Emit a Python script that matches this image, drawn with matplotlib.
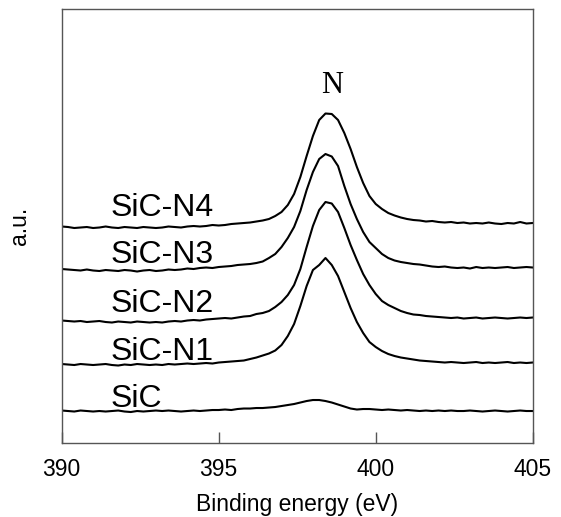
import numpy as np
import matplotlib
matplotlib.use("Agg")
import matplotlib.pyplot as plt

plt.rcParams['font.family'] = ['Liberation Sans', 'DejaVu Sans']

# Binding energy grid (eV), 0.2 eV steps
energy = np.linspace(390.0, 405.0, 76)

sic = [32.5, 32, 31.5, 32.5, 32, 31.5, 32, 31.5, 32, 32.5,
       31.5, 31, 32, 31.5, 32, 32.5, 32, 32.5, 32, 31.5,
       32, 32.5, 32, 32.5, 33, 33, 33.5, 33, 34, 34.5,
       34.5, 35, 35, 35.5, 36, 37, 38, 39, 40.5, 42,
       43, 43, 42, 40.5, 38.5, 36.5, 34.5, 33.5, 34, 34,
       33.5, 33, 33.5, 33, 32.5, 33, 32.5, 32, 32.5, 32,
       32.5, 32, 32.5, 32, 32, 32.5, 32, 31.5, 32, 32.5,
       32, 31.5, 32, 32.5, 32, 32]

sic_n1 = [79, 78.5, 78, 79, 78.5, 78, 78.5, 79, 78, 77.5,
          78.5, 78, 79, 78.5, 78, 78.5, 78, 79, 78.5, 79,
          79.5, 79, 79.5, 80, 79.5, 80.5, 81, 81.5, 82, 82.5,
          84, 85.5, 87.5, 89.5, 92.5, 98, 107, 119, 137, 157,
          173, 178, 185, 178, 167, 151, 135, 121, 110, 101,
          96, 92, 89, 87, 85.5, 84.5, 83.5, 82.5, 82, 81.5,
          81, 80.5, 81, 80.5, 80, 80.5, 81, 80, 80.5, 80,
          80.5, 81, 80, 80.5, 80, 80.5]

sic_n2 = [122.5, 122, 121.5, 122, 121, 121.5, 122, 121, 120.5, 121.5,
          121, 120.5, 121.5, 121, 120.5, 121, 120.5, 121.5, 122, 121.5,
          122.5, 123, 122.5, 123.5, 124, 124.5, 125, 124.5, 125.5, 126.5,
          127, 129, 130, 132, 136, 141, 148, 158, 174, 196,
          217, 233, 241, 239.5, 231, 215, 198, 183, 169, 158,
          149, 142, 138, 135, 132, 130, 128.5, 128, 127, 126.5,
          126, 125.5, 125, 125.5, 124.5, 125, 125.5, 124.5, 125, 125.5,
          125, 124.5, 125, 125.5, 125, 125.5]

sic_n3 = [174, 173.5, 173, 172.5, 173.5, 172.5, 172, 173, 172.5, 172,
          173, 172.5, 171.5, 172.5, 173, 172, 172.5, 173.5, 173, 173.5,
          174.5, 174, 175, 175.5, 175, 176, 176.5, 177, 178, 178.5,
          179, 180, 181.5, 185, 189, 196, 205, 216, 232, 253,
          271, 284, 289, 286.5, 277, 257, 239, 224, 211, 201,
          195, 189, 185, 182.5, 181, 180, 179, 178.5, 177.5, 176.5,
          176, 176.5, 175.5, 175, 175.5, 174.5, 176, 175, 175.5, 175,
          175.5, 176, 175, 175.5, 176, 175.5]

sic_n4 = [216.5, 216, 215, 215.5, 216, 215, 215.5, 216.5, 215.5, 215,
          216, 215.5, 215, 216, 215.5, 215, 215.5, 216.5, 216, 215.5,
          216.5, 217, 216.5, 217, 218, 217.5, 218, 219, 219.5, 220,
          220.5, 221.5, 222.5, 224, 227, 231, 238, 249, 266, 287,
          307, 323, 329.5, 329, 323, 310, 294, 276, 260, 247,
          239, 234, 230, 227.5, 225.5, 224, 223, 222.5, 221.5, 222,
          221, 220.5, 221, 220, 220.5, 219.5, 220, 219.5, 220.5, 219.5,
          219, 220, 219.5, 221, 219.5, 220]

series = [sic, sic_n1, sic_n2, sic_n3, sic_n4]
labels = ["SiC", "SiC-N1", "SiC-N2", "SiC-N3", "SiC-N4"]
label_y = [36.3, 83, 131.3, 180.3, 227]

xticks = [390, 395, 400, 405]

fig = plt.figure(figsize=(5.61, 5.17), dpi=100)
ax = fig.add_axes([0.110, 0.1431, 0.8396, 0.8395])

for s in series:
    ax.plot(energy, s, color='black', lw=1.5)

for lab, yv in zip(labels, label_y):
    ax.text(391.55, yv, lab, fontsize=23, ha='left', va='baseline', color='black')

ax.text(398.62, 350.3, "N", fontsize=22, ha='center', va='baseline',
        family=['Liberation Serif', 'DejaVu Serif'], color='black')

ax.set_xlim(390, 405)
ax.set_ylim(0, 434)
ax.set_xticks(xticks)
ax.set_xticklabels([str(t) for t in xticks])
ax.set_yticks([])
ax.tick_params(axis='x', direction='in', length=8, width=1, color='#555555',
               labelsize=16.5, pad=10.5)
for sp in ax.spines.values():
    sp.set_color('#555555')
    sp.set_linewidth(1.0)

ax.set_xlabel("Binding energy (eV)", fontsize=16.5, labelpad=9)
ax.set_ylabel("a.u.", fontsize=16.5, labelpad=22)

fig.savefig("out.png", dpi=100)
